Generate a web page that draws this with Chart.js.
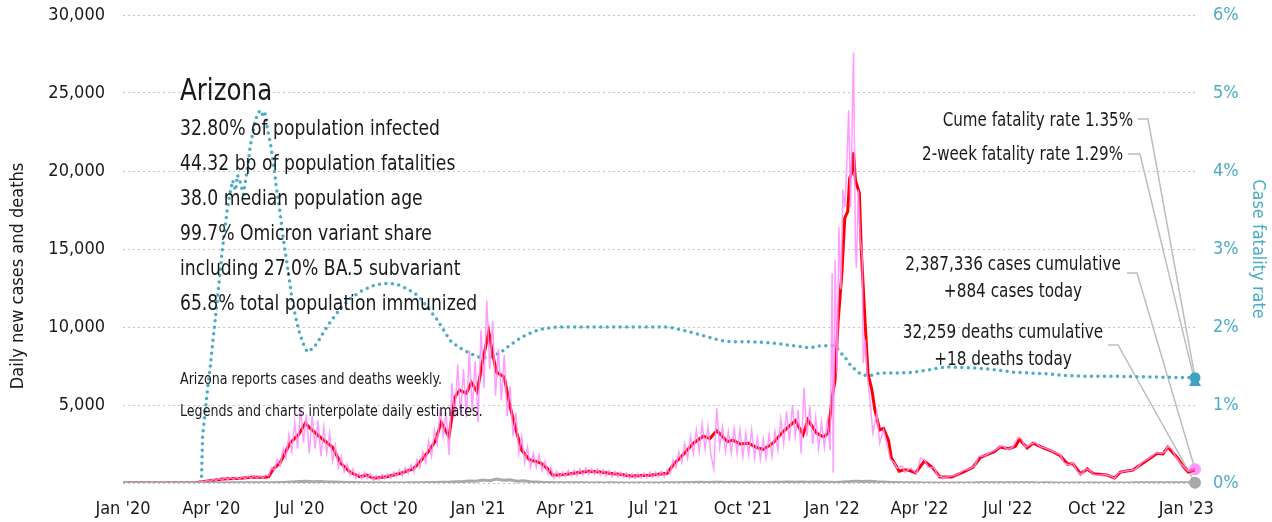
<!DOCTYPE html>
<html>
<head>
<meta charset="utf-8">
<script src="https://cdn.jsdelivr.net/npm/chart.js@4.4.1/dist/chart.umd.min.js"></script>
<style>
  html, body { margin: 0; padding: 0; background: #fff; }
  #wrap { width: 1272px; height: 522px; }
</style>
</head>
<body>
<div id="wrap"><canvas id="chart"></canvas></div>
<script>
const FONT = "'Liberation Sans Narrow', 'DejaVu Sans Condensed', 'Roboto', sans-serif";

// x axis is days since 1 Jan 2020
const tickDays = [0, 91, 182, 274, 366, 456, 547, 639, 731, 821, 912, 1004, 1096];
const tickLabels = ["Jan '20", "Apr '20", "Jul '20", "Oct '20", "Jan '21", "Apr '21", "Jul '21",
    "Oct '21", "Jan '22", "Apr '22", "Jul '22", "Oct '22", "Jan '23"];

// [day, daily new cases]
const dailyCases = [
    [0,0],[75,0],[78,50],[81,120],[84,90],[87,180],[90,110],[93,230],[96,160],[99,290],[102,200],[105,330],
    [108,230],[111,360],[114,240],[117,380],[120,260],[123,420],[126,280],[129,450],[132,300],[135,480],
    [138,320],[141,470],[144,300],[147,520],[150,450],[153,1000],[156,800],[159,1500],[162,1100],[165,2200],
    [168,1600],[171,3100],[174,2000],[177,3900],[180,2200],[183,4800],[186,2600],[189,4400],[192,1900],
    [195,4300],[198,2200],[201,4000],[204,1700],[207,3600],[210,1900],[213,3200],[216,1400],[219,2400],
    [222,1000],[225,1700],[228,700],[231,1200],[234,500],[237,900],[240,300],[243,650],[246,250],[249,700],
    [252,300],[255,600],[258,150],[261,500],[264,200],[267,550],[270,250],[273,600],[276,300],[279,700],
    [282,400],[285,850],[288,450],[291,1000],[294,600],[297,1150],[300,700],[303,1500],[306,1000],[309,2000],
    [312,1300],[315,2700],[318,1700],[321,3400],[324,2500],[327,4800],[330,3000],[333,4500],[336,1800],
    [339,6400],[342,4200],[345,7600],[348,4300],[351,7300],[354,4200],[357,8500],[360,4600],[363,7800],
    [366,3900],[369,9800],[372,6100],[375,11700],[378,7300],[381,10400],[384,5600],[387,8600],[390,5300],
    [393,8200],[396,4300],[399,6200],[402,3000],[405,4500],[408,1900],[411,3000],[414,1300],[417,2300],
    [420,1000],[423,1900],[426,1000],[429,1800],[432,800],[435,1400],[438,600],[441,1000],[444,300],[447,750],
    [450,350],[453,700],[456,400],[459,800],[462,450],[465,850],[468,450],[471,900],[474,500],[477,950],
    [480,550],[483,900],[486,550],[489,900],[492,500],[495,850],[498,450],[501,800],[504,400],[507,750],
    [510,400],[513,700],[516,350],[519,650],[522,300],[525,600],[528,300],[531,620],[534,330],[537,650],
    [540,320],[543,680],[546,350],[549,700],[552,380],[555,750],[558,400],[561,850],[564,600],[567,1500],
    [570,1000],[573,2000],[576,1300],[579,2500],[582,1600],[585,3000],[588,1900],[591,3400],[594,2000],
    [597,3800],[600,2200],[603,3600],[606,1800],[609,900],[612,4800],[615,2300],[618,3600],[621,2000],
    [624,3300],[627,1900],[630,3500],[633,1900],[636,3400],[639,1700],[642,3200],[645,1800],[648,3400],
    [651,1600],[654,2900],[657,1500],[660,2800],[663,1600],[666,3100],[669,1700],[672,3300],[675,2100],
    [678,4100],[681,2500],[684,4600],[687,2700],[690,5000],[693,3000],[696,4700],[699,1900],[702,6100],
    [705,3000],[708,4900],[711,2500],[714,4200],[717,2200],[720,3900],[723,2300],[726,4000],[729,2100],
    [731,13450],[732,650],[734,14300],[736,7000],[738,16400],[740,12400],[742,18800],[744,17700],[746,20250],
    [748,23900],[750,17700],[753,27600],[755,15100],[756,13800],[758,18800],[760,15600],[762,14500],
    [763,7700],[765,9200],[767,7000],[770,5300],[773,3200],[777,4500],[780,2550],[784,3400],[787,2600],
    [791,1500],[795,1300],[798,950],[803,1100],[806,700],[812,950],[818,600],[822,1600],[826,1500],[830,1000],
    [836,1000],[840,450],[847,350],[854,450],[860,550],[866,800],[872,900],[878,1100],[882,1700],[888,1750],
    [894,1950],[900,2150],[906,2400],[912,2150],[917,2300],[922,2900],[926,2850],[930,2300],[935,2450],
    [940,2600],[945,2350],[950,2250],[956,2100],[961,1950],[966,1800],[970,1300],[975,1150],[979,1300],
    [984,700],[988,550],[992,900],[996,850],[1000,550],[1006,500],[1012,550],[1018,450],[1022,300],[1026,650],
    [1032,750],[1038,800],[1044,900],[1050,1300],[1055,1500],[1060,1700],[1065,1950],[1070,1900],[1074,2000],
    [1077,2350],[1081,2200],[1085,1700],[1090,1250],[1094,1000],[1098,750],[1102,800],[1105,884]
];

// [day, 7-day average cases]
const avgCases = [
    [0,0],[76,0],[79,60],[90,150],[103,250],[121,300],[134,380],[144,350],[150,400],[155,900],[162,1300],
    [172,2550],[181,3100],[188,3850],[193,3500],[203,2950],[211,2550],[216,2300],[224,1300],[234,700],
    [244,400],[251,500],[258,300],[272,400],[286,620],[299,900],[306,1350],[316,2100],[322,2700],[328,3900],
    [336,2950],[342,5500],[347,5950],[354,5750],[359,6450],[365,5850],[371,7900],[377,9700],[381,8300],
    [385,7100],[393,6800],[399,4900],[406,3200],[411,2100],[419,1500],[430,1300],[437,950],[443,500],
    [455,550],[468,650],[480,750],[492,700],[505,600],[512,560],[523,450],[543,500],[561,620],[567,1150],
    [577,1800],[588,2550],[598,3000],[605,2850],[612,3350],[623,2650],[629,2750],[636,2500],[645,2550],
    [652,2300],[660,2150],[670,2550],[679,3200],[693,4000],[701,3100],[706,4050],[715,3200],[722,2950],
    [727,3200],[731,5500],[734,6600],[737,10250],[741,13450],[744,17000],[747,17400],[749,19550],[751,19850],
    [753,21200],[755,19400],[759,18600],[761,14950],[765,10250],[768,7000],[772,5950],[775,4700],[780,3400],
    [784,3500],[789,2750],[792,1600],[796,1200],[800,750],[805,850],[811,800],[817,650],[826,1400],[835,950],
    [842,380],[854,380],[866,700],[876,1000],[884,1650],[898,2000],[904,2300],[913,2200],[920,2350],
    [924,2800],[932,2250],[938,2550],[947,2300],[957,2050],[966,1750],[974,1200],[979,1250],[987,600],
    [994,900],[1000,600],[1014,520],[1022,320],[1028,700],[1041,830],[1056,1470],[1066,1900],[1072,1860],
    [1077,2300],[1087,1600],[1093,1050],[1098,700],[1105,850]
];

// [day, daily deaths]
const dailyDeaths = [
    [0,0],[77,0],[84,3],[91,8],[98,14],[105,18],[112,22],[119,16],[126,20],[133,14],[140,18],[147,12],
    [154,20],[161,30],[168,45],[175,70],[182,90],[189,110],[196,80],[203,95],[210,70],[217,60],[224,45],
    [231,30],[238,25],[245,15],[252,12],[259,8],[266,10],[273,6],[280,10],[287,8],[294,12],[301,15],[308,18],
    [315,25],[322,35],[329,45],[336,55],[343,75],[350,90],[357,130],[364,110],[371,190],[378,150],[385,250],
    [392,170],[399,200],[406,120],[413,140],[420,80],[427,60],[434,40],[441,30],[448,20],[455,15],[462,12],
    [469,10],[476,15],[483,8],[490,12],[497,8],[504,10],[511,6],[518,8],[525,5],[532,6],[539,4],[546,8],
    [553,6],[560,10],[567,14],[574,20],[581,28],[588,35],[595,45],[602,40],[609,55],[616,45],[623,40],
    [630,50],[637,35],[644,45],[651,30],[658,40],[665,35],[672,50],[679,45],[686,60],[693,55],[700,70],
    [707,50],[714,65],[721,45],[728,55],[735,40],[742,70],[749,90],[756,120],[763,100],[770,110],[777,80],
    [784,60],[791,40],[798,35],[805,20],[812,15],[819,10],[826,8],[833,6],[840,5],[847,4],[854,5],[861,4],
    [868,6],[875,8],[882,10],[889,12],[896,14],[903,12],[910,15],[917,10],[924,12],[931,10],[938,14],[945,8],
    [952,10],[959,8],[966,6],[973,8],[980,6],[987,5],[994,8],[1001,6],[1008,5],[1015,4],[1022,5],[1029,6],
    [1036,8],[1043,10],[1050,12],[1057,15],[1064,14],[1071,18],[1078,20],[1085,22],[1092,18],[1099,16],
    [1105,18]
];

// [day, case fatality rate %]
const fatalityRate = [
    [0,0],[80,0],[81,0.08],[82,0.59],[85,0.95],[87,1.19],[90,1.5],[92,1.74],[95,2.09],[98,2.44],[102,2.95],
    [107,3.46],[110,3.7],[113,3.88],[116,3.75],[118,3.95],[121,3.85],[124,3.7],[126,3.85],[129,4.1],
    [131,4.31],[134,4.5],[136,4.65],[139,4.72],[141,4.78],[144,4.72],[146,4.76],[149,4.53],[152,4.35],
    [155,4.1],[158,3.8],[162,3.46],[165,3.15],[169,2.82],[174,2.38],[178,2.12],[182,1.92],[186,1.78],
    [190,1.68],[195,1.72],[200,1.79],[206,1.92],[213,2.05],[220,2.17],[227,2.28],[237,2.39],[247,2.47],
    [258,2.53],[268,2.56],[282,2.55],[293,2.49],[303,2.41],[313,2.27],[324,2.09],[331,1.95],[337,1.83],
    [346,1.74],[355,1.68],[363,1.63],[371,1.6],[380,1.62],[389,1.67],[397,1.75],[406,1.83],[414,1.89],
    [423,1.94],[431,1.97],[440,1.99],[449,2.0],[458,2.0],[500,2.0],[561,2.0],[570,1.98],[577,1.96],
    [586,1.93],[595,1.9],[604,1.87],[612,1.84],[620,1.82],[629,1.81],[646,1.81],[664,1.8],[680,1.78],
    [690,1.76],[698,1.75],[708,1.73],[714,1.75],[719,1.76],[732,1.76],[736,1.73],[739,1.68],[743,1.63],
    [746,1.58],[750,1.51],[755,1.45],[759,1.41],[763,1.38],[772,1.38],[780,1.41],[801,1.41],[814,1.42],
    [830,1.45],[849,1.49],[865,1.48],[884,1.47],[900,1.45],[918,1.42],[935,1.41],[953,1.4],[970,1.38],
    [987,1.37],[1021,1.37],[1056,1.36],[1080,1.355],[1105,1.35]
];

const endDay = 1105;
const casesToday = 884;
const deathsToday = 18;
const cumeRate = 1.35;
const twoWeekRate = 1.29;

const stateName = 'Arizona';
const statLines = [
    '32.80% of population infected',
    '44.32 bp of population fatalities',
    '38.0 median population age',
    '99.7% Omicron variant share',
    'including 27.0% BA.5 subvariant',
    '65.8% total population immunized',
];
const notes = [
    'Arizona reports cases and deaths weekly.',
    'Legends and charts interpolate daily estimates.',
];

const TEAL = '#4aacc5';
const INK = '#1a1a1a';

const toPoints = (pairs) => pairs.map(([x, y]) => ({ x, y }));

const markerDataset = (value, axis, color, style, radius) => ({
    data: [{ x: endDay, y: value }],
    yAxisID: axis,
    showLine: false,
    pointRadius: radius,
    pointHoverRadius: radius,
    pointStyle: style,
    pointBackgroundColor: color,
    pointBorderWidth: 0,
    borderColor: color,
    clip: false,
});

// narrow text: the source uses a condensed face, so squeeze horizontally
function drawText(ctx, text, x, y, size, align, squeeze, rotate = 0) {
    ctx.save();
    ctx.translate(x, y);
    if (rotate) ctx.rotate(rotate);
    ctx.scale(squeeze, 1);
    ctx.font = `${size}px ${FONT}`;
    ctx.textAlign = align;
    ctx.textBaseline = 'middle';
    ctx.fillText(text, 0, 0);
    ctx.restore();
}

const annotations = {
    id: 'annotations',
    beforeDatasetsDraw(chart) {
        const { ctx } = chart;
        const xs = chart.scales.x;
        const ys = chart.scales.y;
        const yr = chart.scales.y2;
        const ex = xs.getPixelForValue(endDay);

        const leaders = [
            [[1138, 119], [1148, 119], [ex, yr.getPixelForValue(cumeRate)]],
            [[1128, 154], [1140, 154], [ex, yr.getPixelForValue(twoWeekRate)]],
            [[1127, 273], [1137, 273], [ex, ys.getPixelForValue(casesToday)]],
            [[1108, 345], [1118, 345], [ex, ys.getPixelForValue(deathsToday)]],
        ];

        ctx.save();
        ctx.strokeStyle = '#bdbdbd';
        ctx.lineWidth = 1.5;
        leaders.forEach((pts) => {
            ctx.beginPath();
            ctx.moveTo(pts[0][0], pts[0][1]);
            pts.slice(1).forEach((p) => ctx.lineTo(p[0], p[1]));
            ctx.stroke();
        });
        ctx.restore();
    },
    afterDraw(chart) {
        const { ctx } = chart;
        ctx.save();
        ctx.fillStyle = INK;

        drawText(ctx, 'Daily new cases and deaths', 18, 276, 18, 'center', 1, -Math.PI / 2);

        drawText(ctx, stateName, 180, 92, 31, 'left', 0.88);
        statLines.forEach((line, i) => drawText(ctx, line, 180, 130 + i * 35, 21, 'left', 0.91));
        notes.forEach((line, i) => drawText(ctx, line, 180, 380 + i * 32, 16, 'left', 0.88));

        drawText(ctx, `Cume fatality rate ${cumeRate.toFixed(2)}%`, 1133, 121, 20, 'right', 0.84);
        drawText(ctx, `2-week fatality rate ${twoWeekRate.toFixed(2)}%`, 1123, 155, 20, 'right', 0.84);
        drawText(ctx, '2,387,336 cases cumulative', 1013, 265, 20, 'center', 0.85);
        drawText(ctx, `+${casesToday.toLocaleString('en-US')} cases today`, 1013, 292, 20, 'center', 0.85);
        drawText(ctx, '32,259 deaths cumulative', 1003, 333, 20, 'center', 0.85);
        drawText(ctx, `+${deathsToday} deaths today`, 1003, 360, 20, 'center', 0.85);
        ctx.restore();
    },
};

Chart.defaults.font.family = FONT;
Chart.defaults.color = INK;

new Chart(document.getElementById('chart'), {
    type: 'line',
    data: {
        datasets: [
            {
                data: toPoints(dailyDeaths),
                borderColor: '#a9a9a9',
                borderWidth: 3,
                pointRadius: 0,
                yAxisID: 'y',
            },
            {
                data: toPoints(dailyCases),
                borderColor: 'rgba(255, 140, 255, 0.85)',
                borderWidth: 1.5,
                pointRadius: 0,
                yAxisID: 'y',
            },
            {
                data: toPoints(avgCases),
                borderColor: '#ff0000',
                borderWidth: 3,
                pointRadius: 0,
                yAxisID: 'y',
            },
            {
                data: toPoints(fatalityRate),
                borderColor: TEAL,
                borderWidth: 3.5,
                borderDash: [0, 6.5],
                borderCapStyle: 'round',
                pointRadius: 0,
                yAxisID: 'y2',
            },
            markerDataset(deathsToday, 'y', '#a9a9a9', 'circle', 6),
            markerDataset(casesToday, 'y', '#ff99ff', 'circle', 6),
            markerDataset(twoWeekRate, 'y2', '#3da3c0', 'triangle', 7),
            markerDataset(cumeRate, 'y2', '#3da3c0', 'circle', 5.5),
        ],
    },
    options: {
        responsive: true,
        maintainAspectRatio: false,
        animation: false,
        events: [],
        layout: {
            padding: { top: 15, right: 0, bottom: 0, left: 0 },
        },
        plugins: {
            legend: { display: false },
            tooltip: { enabled: false },
        },
        scales: {
            x: {
                type: 'linear',
                min: 0,
                max: endDay,
                grid: { display: false },
                border: { display: false },
                afterBuildTicks(scale) {
                    scale.ticks = tickDays.map((value) => ({ value }));
                },
                afterFit(scale) {
                    scale.height = 39;
                },
                ticks: {
                    autoSkip: false,
                    maxRotation: 0,
                    padding: 8,
                    font: { size: 18 },
                    color: INK,
                    callback(value) {
                        const i = tickDays.indexOf(value);
                        return i >= 0 ? tickLabels[i] : '';
                    },
                },
            },
            y: {
                position: 'left',
                min: 0,
                max: 30000,
                afterFit(scale) {
                    scale.width = 123;
                },
                grid: {
                    color: '#c4c4c4',
                    lineWidth: 1,
                    drawTicks: true,
                    tickLength: 18,
                    tickColor: 'rgba(0,0,0,0)',
                },
                border: { display: false, dash: [2, 3] },
                ticks: {
                    stepSize: 5000,
                    padding: 0,
                    font: { size: 18 },
                    color: INK,
                    callback(value) {
                        return value === 0 ? '' : value.toLocaleString('en-US');
                    },
                },
            },
            y2: {
                position: 'right',
                min: 0,
                max: 6,
                afterFit(scale) {
                    scale.width = 1272 - 123 - 1072;
                },
                grid: {
                    drawOnChartArea: false,
                    drawTicks: true,
                    tickLength: 18,
                    tickColor: 'rgba(0,0,0,0)',
                },
                border: { display: false },
                ticks: {
                    stepSize: 1,
                    padding: 0,
                    font: { size: 18 },
                    color: TEAL,
                    callback(value) {
                        return `${value}%`;
                    },
                },
                title: {
                    display: true,
                    text: 'Case fatality rate',
                    font: { size: 18 },
                    color: TEAL,
                    padding: { top: 4, bottom: 4 },
                },
            },
        },
    },
    plugins: [annotations],
});
</script>
</body>
</html>
